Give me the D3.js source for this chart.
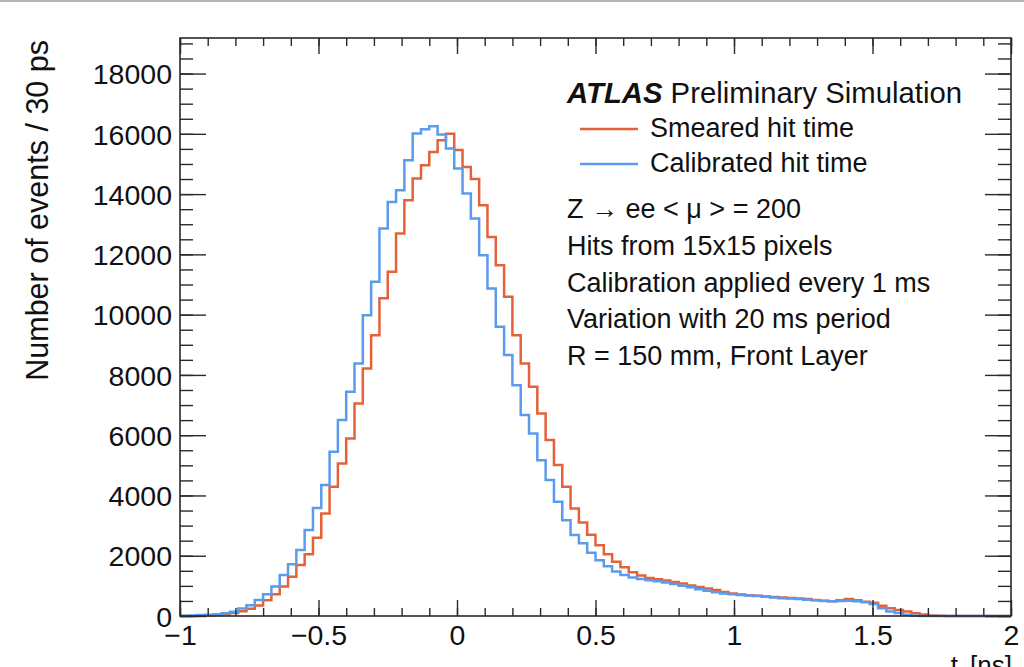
<!DOCTYPE html>
<html>
<head>
<meta charset="utf-8">
<script src="https://cdn.jsdelivr.net/npm/d3@7"></script>
<style>
  body { margin: 0; background: #fff; }
  svg { display: block; font-family: "Liberation Sans", Arial, sans-serif; }
</style>
</head>
<body>
<div id="chart"></div>
<script>

// histogram: 100 bins of 30 ps between -1 and 2 ns
var binStart = -1, binWidth = 0.03;

var smeared = [
    0, 0, 10, 20, 30, 60, 100, 160, 240, 350,
    520, 720, 980, 1300, 1690, 2050, 2600, 3400, 4290, 5060,
    5890, 7050, 8210, 9320, 10540, 11420, 12690, 13800, 14520, 14960,
    15400, 15790, 16000, 15460, 14900, 14500, 13630, 12580, 11640, 10590,
    9320, 8380, 7610, 6720, 5840, 5010, 4290, 3570, 3100, 2700,
    2350, 2050, 1800, 1620, 1450, 1340, 1260, 1220, 1180, 1130,
    1080, 1010, 960, 910, 860, 800, 750, 710, 690, 670,
    650, 630, 610, 600, 580, 560, 530, 510, 490, 520,
    560, 520, 470, 440, 340, 260, 200, 150, 90, 50,
    20, 5, 0, 0, 0, 0, 0, 0, 0, 0
];

var calibrated = [
    10, 20, 30, 40, 60, 90, 140, 250, 360, 530,
    720, 980, 1360, 1720, 2190, 2850, 3580, 4345, 5450, 6500,
    7440, 8380, 9980, 11090, 12860, 13740, 14130, 15120, 16010, 16150,
    16250, 15980, 15510, 14850, 14020, 13190, 11970, 10870, 9600, 8660,
    7660, 6670, 6060, 5170, 4510, 3790, 3180, 2690, 2410, 2100,
    1850, 1650, 1480, 1360, 1280, 1230, 1190, 1150, 1110, 1060,
    1000, 950, 890, 840, 790, 750, 720, 700, 680, 660,
    640, 610, 590, 580, 560, 540, 520, 500, 490, 500,
    510, 490, 460, 400, 260, 150, 100, 40, 10, 0,
    0, 0, 0, 0, 0, 0, 0, 0, 0, 0
];

var xTicks = [-1, -0.5, 0, 0.5, 1, 1.5, 2];
var xTickLabels = ["\u22121", "\u22120.5", "0", "0.5", "1", "1.5", "2"];
var yTicks = [0, 2000, 4000, 6000, 8000, 10000, 12000, 14000, 16000, 18000];

var seriesNames = ["Smeared hit time", "Calibrated hit time"];
var seriesColors = ["#e4613a", "#5b9bee"];

var infoLines = [
    "Hits from 15x15 pixels",
    "Calibration applied every 1 ms",
    "Variation with 20 ms period",
    "R = 150 mm, Front Layer"
];

var width = 1024, height = 667;
// plot frame (window.top is reserved, so use a prefix)
var pLeft = 180, pRight = 1011, pTop = 38, pBottom = 616;

var svg = d3.select("#chart").append("svg")
    .attr("width", width)
    .attr("height", height);

// grey border line at the very top of the screenshot
svg.append("rect")
    .attr("x", 0).attr("y", 0)
    .attr("width", width).attr("height", 2)
    .attr("fill", "#b4b4b4");

var x = d3.scaleLinear().domain([-1, 2]).range([pLeft, pRight]);
var y = d3.scaleLinear().domain([0, 19180]).range([pBottom, pTop]);

// step outline for a histogram
function steps(values) {
    var pts = [];
    values.forEach(function(v, i) {
        var lo = binStart + i * binWidth;
        pts.push([lo, v]);
        pts.push([lo + binWidth, v]);
    });
    return pts;
}

var line = d3.line()
    .x(function(d) { return x(d[0]); })
    .y(function(d) { return y(d[1]); });

var plot = svg.append("g");

[smeared, calibrated].forEach(function(vals, k) {
    plot.append("path")
        .datum(steps(vals))
        .attr("d", line)
        .attr("fill", "none")
        .attr("stroke", seriesColors[k])
        .attr("stroke-width", 2.5)
        .attr("stroke-linejoin", "miter");
});

// axes: ticks on all four sides, ROOT style
var axisColor = "#2a2a2a";

var xMinor = d3.range(-10, 21).map(function(d) { return d / 10; });
var yMinor = d3.range(0, 19001, 500);

var bottomAxis = d3.axisBottom(x).tickValues(xTicks).tickSize(-16).tickFormat(function(d, i) { return xTickLabels[i]; });
var bottomMinor = d3.axisBottom(x).tickValues(xMinor).tickSize(-8).tickFormat("");
var topAxis = d3.axisTop(x).tickValues(xTicks).tickSize(-16).tickFormat("");
var topMinor = d3.axisTop(x).tickValues(xMinor).tickSize(-8).tickFormat("");
var leftAxis = d3.axisLeft(y).tickValues(yTicks).tickSize(-26).tickFormat(d3.format("d"));
var leftMinor = d3.axisLeft(y).tickValues(yMinor).tickSize(-13).tickFormat("");
var rightAxis = d3.axisRight(y).tickValues(yTicks).tickSize(-26).tickFormat("");
var rightMinor = d3.axisRight(y).tickValues(yMinor).tickSize(-13).tickFormat("");

function addAxis(ax, tx, ty) {
    var g = svg.append("g")
        .attr("transform", "translate(" + tx + "," + ty + ")")
        .call(ax);
    g.select(".domain").remove();
    g.selectAll(".tick line").attr("stroke", axisColor).attr("stroke-width", 1.4);
    return g;
}

var gx = addAxis(bottomAxis, 0, pBottom);
addAxis(bottomMinor, 0, pBottom);
addAxis(topAxis, 0, pTop);
addAxis(topMinor, 0, pTop);
var gy = addAxis(leftAxis, pLeft, 0);
addAxis(leftMinor, pLeft, 0);
addAxis(rightAxis, pRight, 0);
addAxis(rightMinor, pRight, 0);

gx.selectAll(".tick text")
    .attr("y", 0).attr("dy", 0)
    .attr("transform", "translate(0,29)")
    .attr("font-size", 28.5)
    .attr("fill", "#111");

gy.selectAll(".tick text")
    .attr("x", -8).attr("dy", "0.36em")
    .attr("font-size", 28.5)
    .attr("fill", "#111");

// frame
svg.append("rect")
    .attr("x", pLeft).attr("y", pTop)
    .attr("width", pRight - pLeft).attr("height", pBottom - pTop)
    .attr("fill", "none")
    .attr("stroke", axisColor)
    .attr("stroke-width", 1.6);

// axis titles
svg.append("text")
    .attr("transform", "translate(48,40) rotate(-90)")
    .attr("text-anchor", "end")
    .attr("font-size", 30.5)
    .attr("fill", "#111")
    .text("Number of events / 30 ps");

var xt = svg.append("text")
    .attr("x", 1012).attr("y", 674)
    .attr("text-anchor", "end")
    .attr("font-size", 26)
    .attr("fill", "#111");
xt.append("tspan").text("t");
xt.append("tspan").attr("dx", 12).text("[ns]");

// legend
var lg = svg.append("g").attr("fill", "#111");

var title = lg.append("text")
    .attr("x", 567).attr("y", 103)
    .attr("font-size", 29.3);
title.append("tspan").attr("font-weight", "bold").attr("font-style", "italic").text("ATLAS");
title.append("tspan").text(" Preliminary Simulation");

seriesNames.forEach(function(name, k) {
    var yy = 129 + k * 35;
    lg.append("line")
        .attr("x1", 580).attr("x2", 638)
        .attr("y1", yy).attr("y2", yy)
        .attr("stroke", seriesColors[k])
        .attr("stroke-width", 2.5);
    lg.append("text")
        .attr("x", 650).attr("y", yy + 8)
        .attr("font-size", 27)
        .text(name);
});

lg.append("text")
    .attr("x", 567).attr("y", 218)
    .attr("font-size", 27)
    .text("Z \u2192 ee < \u03bc > = 200");

infoLines.forEach(function(t, i) {
    lg.append("text")
        .attr("x", 567).attr("y", 255 + i * 36.5)
        .attr("font-size", 27)
        .text(t);
});

</script>
</body>
</html>
